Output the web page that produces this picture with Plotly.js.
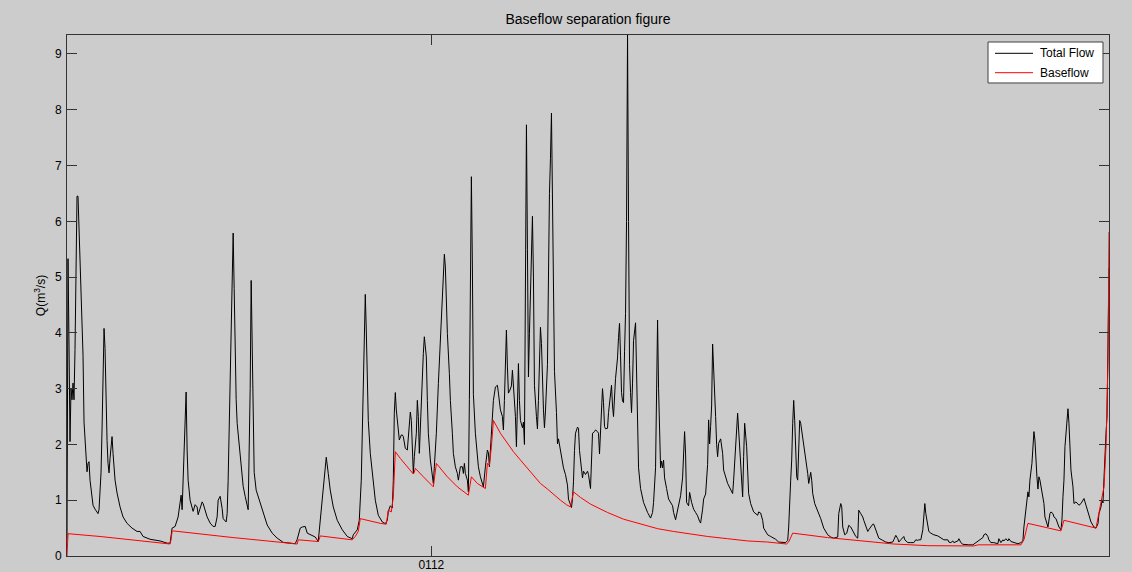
<!DOCTYPE html>
<html>
<head>
<meta charset="utf-8">
<script src="https://cdn.plot.ly/plotly-3.0.1.min.js"></script>
<style>
html,body{margin:0;padding:0;background:#cccccc;}
#chart{width:1132px;height:572px;}
</style>
</head>
<body>
<div id="chart"></div>
<script>
// Day index (daily series, day 0 = start of record) and total flow Q (m3/s)
const flowDays = [0,1,2,3,4,5,6,7,8,9,10,11,12,13,14,15,16,17,18,19,20,21,22,23,24,25,26,28,30,31,32,33,34,35,36,37,38,39,40,41,42,43,44,45,46,47,48,50,53,56,60,65,70,73,76,83,93,100,103,105,108,111,114,115,116,117,118,119,120,121,123,125,126,128,130,131,133,135,136,138,140,143,146,148,150,151,153,155,156,159,160,161,162,163,164,165,166,167,168,169,170,171,173,175,176,178,180,181,182,183,184,185,186,187,189,193,197,200,205,210,216,221,228,230,233,235,238,240,243,248,251,253,255,257,259,261,263,266,270,275,280,285,286,290,292,294,295,296,297,298,299,300,301,303,306,308,311,315,318,320,321,323,325,326,327,328,329,330,332,334,335,336,338,340,341,343,344,345,346,347,349,350,351,352,353,354,356,357,359,360,361,363,365,366,367,369,371,373,375,376,377,378,379,380,382,383,385,386,388,390,391,393,395,396,397,398,400,401,402,403,404,405,406,408,410,411,413,415,416,418,420,421,422,423,425,426,428,430,431,433,435,436,437,438,439,440,441,442,444,445,446,448,449,450,451,452,453,455,456,457,458,459,460,461,462,463,464,465,466,467,469,470,471,472,473,474,475,476,477,478,480,481,482,483,484,485,486,487,489,490,491,493,495,496,498,500,501,503,504,505,506,507,508,510,511,512,514,515,516,518,520,521,523,524,525,527,528,530,531,532,534,535,536,537,538,540,541,543,544,545,546,548,550,551,552,553,554,555,556,557,558,559,560,561,562,563,564,565,566,568,569,570,571,573,576,580,583,585,586,588,589,590,591,592,593,594,595,596,597,599,601,605,606,608,610,611,613,615,616,617,618,619,621,622,624,626,628,630,632,633,635,636,638,640,641,642,643,644,645,646,647,648,649,650,651,653,655,656,660,663,665,666,668,670,671,673,675,676,677,679,680,681,683,686,690,691,693,695,696,700,703,708,711,715,718,720,721,723,724,725,726,727,728,729,730,731,732,733,735,736,738,740,741,742,743,744,745,747,750,753,756,760,763,766,770,771,773,774,775,777,779,781,783,785,786,788,790,791,793,795,796,798,800,801,803,805,806,808,810,811,815,818,821,825,826,828,830,831,833,836,837,840,843,846,848,850,851,853,855,856,857,858,860,861,863,866,870,873,876,880,881,883,885,886,888,890,891,893,895,898,901,905,908,911,915,916,918,920,921,923,926,930,931,933,935,936,938,940,941,943,946,950,953,955,956,958,960,961,962,964,965,966,967,968,969,970,971,972,974,976,977,979,980,982,983,985,986,988,990,991,993,994,995,996,997,999,1000,1001,1002,1003,1005,1006,1008,1010,1011,1013,1015,1016,1018,1020,1021,1023,1025,1026,1028,1030,1031,1033,1034,1035,1036,1037,1038,1039,1040,1041];
const totalFlow = [0.3,5.33,3.8,2.05,3.0,2.8,3.1,2.8,3.7,5.5,6.45,6.45,5.84,5.2,4.64,4.1,3.6,2.4,2.1,1.72,1.51,1.66,1.69,1.36,1.2,1.0,0.91,0.84,0.79,0.76,0.83,1.1,1.49,2.26,3.45,4.08,3.72,2.5,2.07,1.66,1.49,1.75,1.9,2.14,1.84,1.6,1.36,1.13,0.88,0.70,0.585,0.50,0.44,0.44,0.35,0.30,0.27,0.23,0.23,0.5,0.53,0.70,1.09,0.83,1.36,2.0,2.56,2.94,1.9,1.36,1.0,0.83,0.8,0.92,0.88,0.74,0.85,0.97,0.94,0.8,0.7,0.59,0.53,0.53,0.7,1.0,1.07,0.85,0.67,0.61,0.76,1.36,2.38,3.15,4.4,5.3,5.79,4.8,3.27,2.8,2.38,2.2,1.84,1.55,1.25,1.07,0.92,0.83,1.9,3.0,4.94,3.75,2.0,1.5,1.18,0.95,0.70,0.555,0.41,0.32,0.245,0.23,0.22,0.3,0.5,0.52,0.53,0.41,0.38,0.34,0.26,0.64,1.0,1.42,1.77,1.48,1.18,0.88,0.64,0.47,0.35,0.31,0.38,0.47,0.64,1.36,2.26,3.48,4.28,4.69,4.05,2.85,2.43,1.84,1.36,1.0,0.73,0.61,0.58,0.64,0.8,0.9,0.86,1.35,2.56,2.93,2.62,2.43,2.08,2.17,2.17,2.14,1.93,1.9,2.2,2.58,2.43,1.84,1.48,1.78,2.2,2.79,2.5,1.84,2.3,2.92,3.63,3.93,3.57,2.79,2.2,1.72,1.48,1.30,1.6,2.2,3.09,3.87,4.64,5.18,5.41,5.18,4.58,3.99,3.27,2.79,2.2,1.84,1.6,1.48,1.36,1.6,1.6,1.48,1.66,1.48,1.36,1.15,2.8,5.78,6.80,5.2,2.9,2.2,1.84,1.6,1.42,1.30,1.24,1.6,1.9,1.85,1.6,1.9,2.43,2.79,3.03,3.06,2.92,2.62,2.5,2.26,2.79,3.63,4.05,3.39,2.92,2.95,3.05,3.33,3.05,2.5,1.96,3.0,3.45,2.79,2.43,2.3,2.4,2.0,4.5,7.73,5.5,3.21,3.99,4.8,5.6,6.09,5.0,3.06,2.5,2.28,2.79,3.63,4.1,3.81,3.06,2.62,2.3,2.6,3.43,5.16,6.5,7.13,7.94,6.4,4.35,3.31,2.57,2.01,2.1,1.89,1.70,1.58,1.46,1.27,1.02,0.93,0.87,1.02,1.33,1.89,2.2,2.31,2.29,1.89,1.52,1.40,1.52,1.46,1.52,1.46,1.21,1.58,2.2,2.23,2.26,2.23,2.2,1.83,2.5,3.0,2.75,2.32,2.28,2.29,2.57,3.0,3.06,2.69,2.5,3.18,3.55,3.92,4.17,3.6,2.93,2.78,2.75,3.66,4.35,6.0,9.34,6.0,3.43,2.93,2.57,3.1,3.86,4.18,3.43,2.5,1.58,1.21,0.96,0.78,0.68,0.78,0.96,1.58,3.12,4.23,3.0,1.89,1.58,1.70,1.58,1.72,1.40,1.21,1.02,0.90,0.78,0.65,0.84,0.96,1.08,1.40,1.95,2.23,1.83,0.96,0.9,1.14,0.96,0.84,0.78,0.72,0.62,0.59,0.84,1.02,1.11,1.64,2.44,2.01,2.32,2.69,3.8,3.43,2.81,2.5,2.0,1.78,2.02,2.1,1.84,1.54,1.3,1.18,1.12,1.36,1.96,2.56,2.26,1.6,1.06,1.78,2.38,1.96,1.54,1.12,0.94,0.79,0.73,0.79,0.77,0.64,0.5,0.38,0.35,0.30,0.25,0.24,0.24,0.28,0.52,1.36,1.72,2.38,2.79,2.43,1.96,1.42,1.36,1.96,2.43,2.38,2.14,1.96,1.72,1.48,1.30,1.42,1.5,1.36,1.12,0.94,0.82,0.67,0.5,0.38,0.34,0.32,0.34,0.76,0.94,0.88,0.52,0.38,0.41,0.55,0.52,0.44,0.41,0.35,0.32,0.82,0.76,0.7,0.64,0.52,0.44,0.47,0.52,0.57,0.57,0.47,0.38,0.32,0.28,0.25,0.24,0.25,0.29,0.37,0.31,0.25,0.29,0.35,0.29,0.24,0.24,0.24,0.29,0.28,0.29,0.29,0.47,0.76,0.94,0.76,0.52,0.44,0.41,0.38,0.36,0.32,0.29,0.29,0.25,0.24,0.27,0.24,0.25,0.27,0.31,0.24,0.21,0.2,0.2,0.2,0.24,0.27,0.33,0.38,0.4,0.35,0.29,0.24,0.24,0.22,0.31,0.24,0.29,0.27,0.31,0.27,0.31,0.26,0.24,0.22,0.24,0.27,0.52,0.88,1.15,1.06,1.36,1.66,1.96,2.23,2.08,1.66,1.42,1.2,1.42,1.36,1.18,0.94,0.7,0.58,0.52,0.76,0.79,0.76,0.7,0.67,0.58,0.52,0.47,0.64,1.06,1.36,1.96,2.56,2.64,2.38,1.96,1.54,1.24,0.94,0.97,0.94,0.91,0.94,1.0,1.03,0.91,0.79,0.7,0.61,0.55,0.52,0.5,0.58,0.76,0.88,1.0,0.95,1.4,1.96,2.2,2.49,3.5,5.16];

// Baseflow (m3/s) at its breakpoints
const baseDays = [0,1,33,66,100,103,104,105,106,133,166,200,230,231,251,252,253,285,288,291,293,313,319,321,324,326,328,333,340,346,347,348,356,366,369,380,390,401,402,404,410,418,420,422,424,426,433,440,446,453,460,466,473,480,486,493,499,503,506,513,523,540,556,573,590,606,623,640,660,680,700,719,721,723,725,760,793,826,860,893,906,910,953,956,960,993,996,1028,1031,1036,1038,1040,1041];
const baseFlow = [0,0.40,0.35,0.29,0.23,0.215,0.30,0.44,0.45,0.39,0.33,0.27,0.215,0.29,0.26,0.30,0.36,0.29,0.35,0.44,0.67,0.585,0.57,0.82,0.79,1.06,1.87,1.75,1.6,1.47,1.5,1.57,1.42,1.24,1.66,1.42,1.24,1.09,1.2,1.42,1.30,1.21,1.66,1.63,1.96,2.43,2.2,2.02,1.87,1.72,1.58,1.45,1.3,1.2,1.1,1.0,0.92,0.88,1.15,1.05,0.93,0.78,0.66,0.57,0.49,0.44,0.39,0.35,0.31,0.27,0.25,0.215,0.25,0.33,0.41,0.33,0.27,0.215,0.185,0.18,0.18,0.2,0.2,0.29,0.585,0.45,0.64,0.5,0.76,1.24,1.96,3.51,5.81];

const seriesNames = ["Total Flow", "Baseflow"];
const seriesColors = ["#000000", "#ff0000"];
const xTickVals = [364];
const xTickText = ["0112"];
const yTickVals = [0,1,2,3,4,5,6,7,8,9];

const FONT = "Liberation Sans, Arial, sans-serif";
const traces = [
  {x: flowDays, y: totalFlow, type: "scatter", mode: "lines", name: seriesNames[0],
   line: {color: seriesColors[0], width: 1}},
  {x: baseDays, y: baseFlow, type: "scatter", mode: "lines", name: seriesNames[1],
   line: {color: seriesColors[1], width: 1}}
];

// MATLAB-style legend box (paper coordinates of the plot area)
const legBox = {x0: 0.8839, x1: 0.99424, y0: 0.9079, y1: 0.98656};
const legRowsY = [0.96488, 0.92764];
const legLineX = [0.8906, 0.9271];
const legTextX = 0.9319;

const shapes = [{type: "rect", xref: "paper", yref: "paper",
  x0: legBox.x0, x1: legBox.x1, y0: legBox.y0, y1: legBox.y1,
  fillcolor: "#ffffff", line: {color: "#404040", width: 1}, layer: "above"}];
const annotations = [];
seriesNames.forEach((nm, i) => {
  shapes.push({type: "line", xref: "paper", yref: "paper",
    x0: legLineX[0], x1: legLineX[1], y0: legRowsY[i], y1: legRowsY[i],
    line: {color: seriesColors[i], width: 1}, layer: "above"});
  annotations.push({xref: "paper", yref: "paper", x: legTextX, y: legRowsY[i],
    xanchor: "left", yanchor: "middle", text: nm, showarrow: false,
    font: {family: FONT, size: 12, color: "#000000"}});
});

const layout = {
  width: 1132, height: 572,
  paper_bgcolor: "#cccccc", plot_bgcolor: "#cccccc",
  margin: {l: 67, r: 23, t: 35, b: 16, pad: 0},
  font: {family: FONT, size: 12, color: "#000000"},
  title: {text: "Baseflow separation figure", x: 0.5, xref: "paper", xanchor: "center",
          y: 1 - 19/572, yref: "container", yanchor: "middle",
          font: {family: FONT, size: 14, color: "#000000"}},
  showlegend: false,
  shapes: shapes,
  annotations: annotations,
  xaxis: {range: [0, 1041], tickmode: "array", tickvals: xTickVals, ticktext: xTickText,
          ticks: "inside", ticklen: 10, tickwidth: 1, tickcolor: "#333333",
          showline: true, linecolor: "#333333", linewidth: 1, mirror: "ticks",
          showgrid: false, zeroline: false, automargin: false,
          ticklabelstandoff: -2,
          tickfont: {family: FONT, size: 12, color: "#000000"}},
  yaxis: {range: [0, 9.34], tickmode: "array", tickvals: yTickVals,
          ticks: "inside", ticklen: 10, tickwidth: 1, tickcolor: "#333333",
          showline: true, linecolor: "#333333", linewidth: 1, mirror: "ticks",
          showgrid: false, zeroline: false, automargin: false,
          ticklabelstandoff: 2,
          tickfont: {family: FONT, size: 12, color: "#000000"},
          title: {text: "Q(m<sup>3</sup>/s)", standoff: 6,
                  font: {family: FONT, size: 12, color: "#000000"}}}
};

Plotly.newPlot("chart", traces, layout, {staticPlot: true, displayModeBar: false});
</script>
</body>
</html>
